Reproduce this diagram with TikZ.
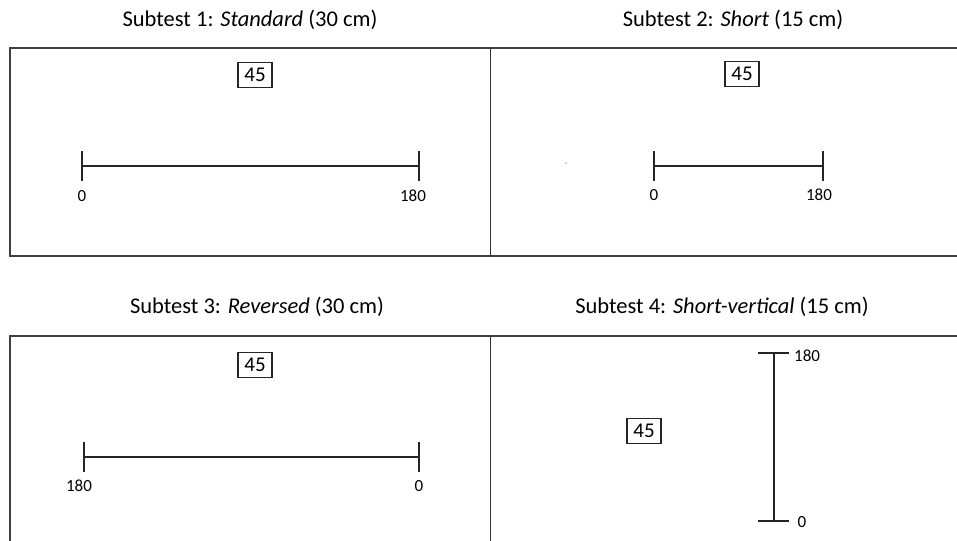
\documentclass[tikz,border=0pt]{standalone}
\usepackage{fontspec}
\setmainfont{Carlito}
\begin{document}
\begin{tikzpicture}[x=1pt,y=-1pt,
  frame/.style={draw=black!75,line width=1.7pt},
  divider/.style={draw=black!80,line width=1pt},
  scaleline/.style={draw=black!85,line width=1.3pt},
  tickmark/.style={draw=black!85,line width=1.3pt},
  title/.style={font=\fontsize{22.5}{26}\selectfont,inner sep=0pt},
  numbox/.style={draw=black!85,line width=1.1pt,minimum width=34pt,minimum height=25pt,inner sep=0pt,font=\fontsize{21}{23}\selectfont},
  ticklabel/.style={font=\fontsize{17}{19}\selectfont,inner sep=0pt}]
\useasboundingbox (0,0) rectangle (957,540);
% titles
\node[title] (t1) at (250,20) {Subtest 1: \textit{Standard} (30 cm)};
\node[title] (t2) at (733,20) {Subtest 2: \textit{Short} (15 cm)};
\node[title] (t3) at (257,307) {Subtest 3: \textit{Reversed} (30 cm)};
\node[title] (t4) at (722,307) {Subtest 4: \textit{Short-vertical} (15 cm)};
% frames
\draw[frame] (957,48) -- (10,48) -- (10,256) -- (957,256);
\draw[divider] (490,48) -- (490,256);
\draw[frame] (957,336) -- (10,336) -- (10,541);
\draw[divider] (490,336) -- (490,541);
% panel 1
\node[numbox] (b1) at (255,75) {45};
\coordinate (p1a) at (82,166);
\coordinate (p1b) at (419,166);
\draw[scaleline] (p1a) -- (p1b);
\draw[tickmark] ([yshift=-15pt]p1a) -- ([yshift=15pt]p1a);
\draw[tickmark] ([yshift=-15pt]p1b) -- ([yshift=15pt]p1b);
\node[ticklabel] (l1a) at (82,196) {0};
\node[ticklabel] (l1b) at (413,196) {180};
% panel 2
\node[numbox] (b2) at (742,74) {45};
\coordinate (p2a) at (654,166);
\coordinate (p2b) at (823,166);
\draw[scaleline] (p2a) -- (p2b);
\draw[tickmark] ([yshift=-15pt]p2a) -- ([yshift=15pt]p2a);
\draw[tickmark] ([yshift=-15pt]p2b) -- ([yshift=15pt]p2b);
\node[ticklabel] (l2a) at (654,195) {0};
\node[ticklabel] (l2b) at (819,195) {180};
\fill[black!70] (566,163) circle (0.6pt);
% panel 3
\node[numbox] (b3) at (255,365) {45};
\coordinate (p3a) at (84,457);
\coordinate (p3b) at (419,457);
\draw[scaleline] (p3a) -- (p3b);
\draw[tickmark] ([yshift=-15pt]p3a) -- ([yshift=15pt]p3a);
\draw[tickmark] ([yshift=-15pt]p3b) -- ([yshift=15pt]p3b);
\node[ticklabel] (l3a) at (79,486) {180};
\node[ticklabel] (l3b) at (419,486) {0};
% panel 4
\node[numbox] (b4) at (644,431) {45};
\coordinate (p4a) at (774,353);
\coordinate (p4b) at (774,521);
\draw[scaleline] (p4a) -- (p4b);
\draw[tickmark] ([xshift=-16pt]p4a) -- ([xshift=15pt]p4a);
\draw[tickmark] ([xshift=-16pt]p4b) -- ([xshift=15pt]p4b);
\node[ticklabel,anchor=west] (l4a) at (794,356) {180};
\node[ticklabel] (l4b) at (802,522) {0};
\end{tikzpicture}
\end{document}
